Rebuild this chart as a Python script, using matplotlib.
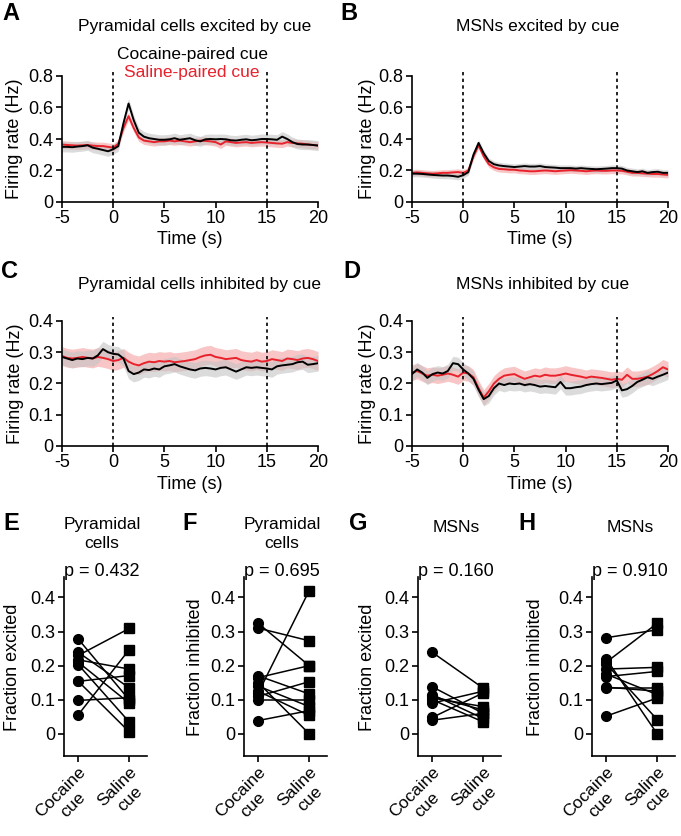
import numpy as np
import matplotlib
matplotlib.use("Agg")
import matplotlib.pyplot as plt

plt.rcParams['font.family'] = ['Liberation Sans', 'DejaVu Sans']
plt.rcParams['font.size'] = 12
plt.rcParams['axes.unicode_minus'] = False

# ---- data ----
time = np.arange(-5, 20.01, 0.5)   # sample grid (s)
cue_times = [0, 15]

# A: pyramidal cells excited by cue
a_coc = [0.350, 0.350, 0.348, 0.352, 0.355, 0.360, 0.345, 0.338, 0.330, 0.322,
         0.335, 0.355, 0.500, 0.625, 0.520, 0.440, 0.415, 0.405, 0.400, 0.395,
         0.395, 0.398, 0.405, 0.395, 0.400, 0.405, 0.392, 0.385, 0.398, 0.400,
         0.398, 0.400, 0.398, 0.392, 0.390, 0.395, 0.398, 0.392, 0.395, 0.400,
         0.400, 0.398, 0.395, 0.415, 0.400, 0.380, 0.368, 0.365, 0.365, 0.362, 0.358]
a_sal = [0.365, 0.362, 0.360, 0.358, 0.360, 0.362, 0.358, 0.355, 0.355, 0.350,
         0.345, 0.370, 0.470, 0.545, 0.470, 0.410, 0.390, 0.385, 0.380, 0.385,
         0.385, 0.390, 0.385, 0.390, 0.385, 0.380, 0.385, 0.390, 0.388, 0.385,
         0.380, 0.365, 0.385, 0.380, 0.375, 0.378, 0.380, 0.375, 0.378, 0.380,
         0.378, 0.375, 0.372, 0.370, 0.380, 0.375, 0.372, 0.370, 0.365, 0.362, 0.360]

# B: MSNs excited by cue
b_coc = [0.180, 0.180, 0.178, 0.175, 0.172, 0.170, 0.168, 0.168, 0.165, 0.160,
         0.170, 0.190, 0.300, 0.375, 0.310, 0.260, 0.240, 0.232, 0.228, 0.225,
         0.222, 0.225, 0.228, 0.225, 0.225, 0.228, 0.222, 0.220, 0.218, 0.215,
         0.215, 0.215, 0.212, 0.215, 0.212, 0.210, 0.208, 0.210, 0.212, 0.215,
         0.215, 0.212, 0.200, 0.195, 0.190, 0.195, 0.185, 0.190, 0.192, 0.185, 0.185]
b_sal = [0.185, 0.188, 0.185, 0.182, 0.180, 0.182, 0.185, 0.185, 0.188, 0.190,
         0.185, 0.200, 0.290, 0.360, 0.290, 0.240, 0.220, 0.210, 0.208, 0.205,
         0.205, 0.200, 0.198, 0.195, 0.195, 0.198, 0.200, 0.198, 0.195, 0.198,
         0.200, 0.202, 0.200, 0.198, 0.195, 0.198, 0.200, 0.198, 0.198, 0.200,
         0.200, 0.198, 0.192, 0.185, 0.185, 0.182, 0.180, 0.178, 0.178, 0.175, 0.172]

# C: pyramidal cells inhibited by cue
c_coc = [0.285, 0.280, 0.275, 0.280, 0.278, 0.282, 0.280, 0.290, 0.310, 0.300,
         0.295, 0.293, 0.280, 0.240, 0.230, 0.235, 0.245, 0.243, 0.248, 0.245,
         0.255, 0.258, 0.262, 0.255, 0.250, 0.245, 0.242, 0.248, 0.250, 0.248,
         0.245, 0.250, 0.252, 0.245, 0.238, 0.245, 0.252, 0.250, 0.252, 0.250,
         0.248, 0.245, 0.255, 0.258, 0.260, 0.262, 0.268, 0.270, 0.260, 0.262, 0.265]
c_sal = [0.288, 0.282, 0.280, 0.282, 0.285, 0.282, 0.280, 0.285, 0.282, 0.278,
         0.272, 0.275, 0.282, 0.270, 0.262, 0.258, 0.265, 0.270, 0.268, 0.272,
         0.270, 0.272, 0.268, 0.270, 0.272, 0.275, 0.278, 0.285, 0.290, 0.292,
         0.285, 0.282, 0.278, 0.280, 0.282, 0.275, 0.272, 0.270, 0.275, 0.270,
         0.272, 0.278, 0.275, 0.272, 0.280, 0.278, 0.275, 0.280, 0.282, 0.278, 0.272]

# D: MSNs inhibited by cue
d_coc = [0.230, 0.245, 0.235, 0.218, 0.230, 0.235, 0.232, 0.240, 0.265, 0.262,
         0.245, 0.232, 0.215, 0.180, 0.150, 0.160, 0.185, 0.200, 0.195, 0.200,
         0.198, 0.200, 0.195, 0.198, 0.195, 0.190, 0.192, 0.190, 0.188, 0.205,
         0.185, 0.185, 0.188, 0.190, 0.195, 0.198, 0.200, 0.198, 0.200, 0.202,
         0.210, 0.178, 0.182, 0.192, 0.205, 0.212, 0.220, 0.215, 0.222, 0.228, 0.235]
d_sal = [0.235, 0.240, 0.232, 0.225, 0.228, 0.225, 0.228, 0.232, 0.228, 0.222,
         0.235, 0.232, 0.220, 0.185, 0.155, 0.175, 0.200, 0.215, 0.225, 0.228,
         0.230, 0.222, 0.215, 0.220, 0.225, 0.222, 0.228, 0.225, 0.225, 0.228,
         0.232, 0.228, 0.225, 0.222, 0.218, 0.222, 0.220, 0.218, 0.215, 0.212,
         0.215, 0.212, 0.228, 0.215, 0.215, 0.218, 0.222, 0.230, 0.240, 0.252, 0.245]

# SEM (approx, per series)
a_sem = [0.032, 0.025]
b_sem = [0.020, 0.020]
c_sem = [0.025, 0.030]
d_sem = [0.022, 0.025]

# E-H: paired fractions per session (cocaine cue, saline cue)
e_coc = [0.278, 0.239, 0.230, 0.217, 0.210, 0.203, 0.154, 0.154, 0.098, 0.056]
e_sal = [0.100, 0.135, 0.309, 0.190, 0.090, 0.035, 0.171, 0.006, 0.106, 0.247]
f_coc = [0.310, 0.324, 0.120, 0.165, 0.150, 0.170, 0.140, 0.110, 0.125, 0.100, 0.039]
f_sal = [0.273, 0.200, 0.420, 0.200, 0.000, 0.117, 0.080, 0.153, 0.054, 0.100, 0.068]
g_coc = [0.239, 0.138, 0.115, 0.105, 0.100, 0.090, 0.048, 0.040, 0.110]
g_sal = [0.134, 0.060, 0.045, 0.080, 0.035, 0.125, 0.120, 0.060, 0.070]
h_coc = [0.282, 0.210, 0.220, 0.205, 0.190, 0.175, 0.168, 0.134, 0.137, 0.052]
h_sal = [0.305, 0.324, 0.000, 0.042, 0.195, 0.115, 0.183, 0.134, 0.125, 0.105]

pair_labels = ['Cocaine\ncue', 'Saline\ncue']
p_values = ['p = 0.432', 'p = 0.695', 'p = 0.160', 'p = 0.910']

RED = '#e8212b'
W, H = 681, 836
fig = plt.figure(figsize=(W / 100, H / 100), dpi=100)


def px_axes(left, top, right, bottom):
    return fig.add_axes([left / W, 1 - bottom / H, (right - left) / W, (bottom - top) / H])


def ftext(x, y, s, **kw):
    kw.setdefault('ha', 'center')
    kw.setdefault('va', 'center')
    fig.text(x / W, 1 - y / H, s, **kw)


def trace_panel(ax, coc, sal, sem, ymax, step):
    coc = np.array(coc)
    sal = np.array(sal)
    ax.fill_between(time, sal - sem[1], sal + sem[1], color='#f6b3b3', alpha=0.75, lw=0)
    ax.plot(time, sal, color=RED, lw=1.4)
    ax.fill_between(time, coc - sem[0], coc + sem[0], color='#c4c4c4', alpha=0.6, lw=0)
    ax.plot(time, coc, color='black', lw=1.4)
    for t in cue_times:
        ax.axvline(t, ymin=0, ymax=1.03, color='black', lw=1.2,
                   linestyle=(0, (2, 2)), clip_on=False)
    ax.set_xlim(-5, 20)
    ax.set_ylim(0, ymax)
    ax.set_xticks([-5, 0, 5, 10, 15, 20])
    yt = np.arange(0, ymax + 1e-9, step)
    ax.set_yticks(yt)
    ax.set_yticklabels(['0'] + ['%g' % v for v in yt[1:]])
    for s in ['top', 'right']:
        ax.spines[s].set_visible(False)
    ax.tick_params(direction='out', length=4, width=1.2, labelsize=13, pad=2)
    for s in ['left', 'bottom']:
        ax.spines[s].set_linewidth(1.2)


def pair_panel(ax, coc, sal):
    for c, s in zip(coc, sal):
        ax.plot([0, 1], [c, s], color='black', lw=1.1, zorder=2)
    ax.plot(np.zeros(len(coc)), coc, 'o', color='black', ms=7, zorder=3, clip_on=False)
    ax.plot(np.ones(len(sal)), sal, 's', color='black', ms=7, zorder=3, clip_on=False)
    ax.set_xlim(-0.28, 1.35)
    ax.set_ylim(-0.065, 0.46)
    ax.set_yticks([0, 0.1, 0.2, 0.3, 0.4])
    ax.set_yticklabels(['0', '0.1', '0.2', '0.3', '0.4'])
    ax.set_xticks([0, 1])
    ax.set_xticklabels(pair_labels, rotation=45, ha='right', rotation_mode='anchor',
                       multialignment='center', fontsize=12.5)
    for s in ['top', 'right']:
        ax.spines[s].set_visible(False)
    for s in ['left', 'bottom']:
        ax.spines[s].set_linewidth(1.2)
    ax.tick_params(axis='y', labelsize=13)
    ax.tick_params(direction='out', length=4, width=1.2, pad=2)


# top traces
axA = px_axes(62, 76, 318, 202)
trace_panel(axA, a_coc, a_sal, a_sem, 0.8, 0.2)
axB = px_axes(412, 76, 668, 202)
trace_panel(axB, b_coc, b_sal, b_sem, 0.8, 0.2)
axC = px_axes(62, 321, 318, 446)
trace_panel(axC, c_coc, c_sal, c_sem, 0.4, 0.1)
axD = px_axes(412, 321, 668, 446)
trace_panel(axD, d_coc, d_sal, d_sem, 0.4, 0.1)

titles = ['Pyramidal cells excited by cue', 'MSNs excited by cue',
          'Pyramidal cells inhibited by cue', 'MSNs inhibited by cue']
ftext(195, 27, titles[0], fontsize=12.5)
ftext(538, 27, titles[1], fontsize=12.5)
ftext(200, 285, titles[2], fontsize=12.5)
ftext(543, 285, titles[3], fontsize=12.5)
ftext(192, 55, 'Cocaine-paired cue', fontsize=12.5)
ftext(192, 73, 'Saline-paired cue', fontsize=12.5, color=RED)

for x, y in [(15, 139), (367, 139), (16, 384), (368, 384)]:
    ftext(x, y, 'Firing rate (Hz)', rotation=90, fontsize=13)
for x, y in [(190, 240), (540, 240), (190, 485), (540, 485)]:
    ftext(x, y, 'Time (s)', fontsize=13)

for s, x, y in [('A', 11, 14), ('B', 349, 14), ('C', 10, 272), ('D', 352, 272),
                ('E', 11, 524), ('F', 190, 524), ('G', 358, 524), ('H', 527, 524)]:
    ftext(x, y, s, fontsize=17, fontweight='bold')

# bottom paired plots
lefts = [64, 244, 418, 592]
pair_data = [(e_coc, e_sal), (f_coc, f_sal), (g_coc, g_sal), (h_coc, h_sal)]
ylabels = ['Fraction excited', 'Fraction inhibited', 'Fraction excited', 'Fraction inhibited']
ylab_x = [13, 195, 368, 535]
sub_titles = ['Pyramidal\ncells', 'Pyramidal\ncells', 'MSNs', 'MSNs']
sub_y = [534, 534, 528, 528]
for i in range(4):
    ax = px_axes(lefts[i], 577, lefts[i] + 83, 756)
    pair_panel(ax, *pair_data[i])
    cx = lefts[i] + 38
    ftext(cx, sub_y[i], sub_titles[i], fontsize=12.5, linespacing=1.3)
    ftext(cx, 571, p_values[i], fontsize=13)
    ftext(ylab_x[i], 667, ylabels[i], rotation=90, fontsize=13)

fig.savefig('out.png', dpi=100)
